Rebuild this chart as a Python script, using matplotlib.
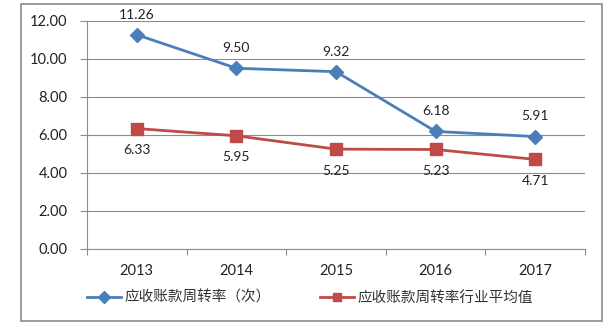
import matplotlib
matplotlib.use("Agg")
import matplotlib.pyplot as plt
from matplotlib.patches import Rectangle
from matplotlib.ticker import FixedLocator

years = ["2013", "2014", "2015", "2016", "2017"]
turnover = [11.26, 9.50, 9.32, 6.18, 5.91]
industry_avg = [6.33, 5.95, 5.25, 5.23, 4.71]
series_names = ["应收账款周转率（次）", "应收账款周转率行业平均值"]
yticks = [0, 2, 4, 6, 8, 10, 12]

blue = "#4A7EBB"
red = "#BE4B48"
grid_c = "#8C8C8C"

plt.rcParams['font.family'] = ['Lato', 'DejaVu Sans']

fig = plt.figure(figsize=(6.14, 3.25), dpi=100)
ax = fig.add_axes([87/614, 1-249/325, (585-87)/614, (249-20.7)/325])

x = list(range(len(years)))
ax.plot(x, turnover, color=blue, lw=2.0, marker='D', ms=7.5, label=series_names[0], zorder=3)
ax.plot(x, industry_avg, color=red, lw=2.0, marker='s', ms=8.5, label=series_names[1], zorder=3)

for xi, v in zip(x, turnover):
    ax.annotate(f"{v:.2f}", (xi, v), xytext=(0, 14.5), textcoords='offset points',
                ha='center', va='center', fontsize=10, color='#222222')
for xi, v in zip(x, industry_avg):
    ax.annotate(f"{v:.2f}", (xi, v), xytext=(0, -15.5), textcoords='offset points',
                ha='center', va='center', fontsize=10, color='#222222')

ax.set_xlim(-0.5, len(years) - 0.5)
ax.set_ylim(0, 12)
ax.set_yticks(yticks)
ax.set_yticklabels([f"{t:.2f}" for t in yticks], fontsize=10.5, color='#222222')
ax.set_xticks(x)
ax.set_xticklabels(years, fontsize=10.5, color='#222222')
ax.xaxis.set_minor_locator(FixedLocator([i - 0.5 for i in range(len(years) + 1)]))
ax.tick_params(axis='x', which='major', length=0, pad=11)
ax.tick_params(axis='x', which='minor', length=4, color=grid_c, width=0.8, direction='out')
ax.tick_params(axis='y', which='major', length=5, color=grid_c, width=0.8, pad=9)

ax.grid(axis='y', color=grid_c, lw=0.8)
ax.set_axisbelow(True)
for s in ['top', 'right']:
    ax.spines[s].set_visible(False)
ax.spines['left'].set_color(grid_c)
ax.spines['bottom'].set_color(grid_c)
ax.spines['left'].set_linewidth(0.8)
ax.spines['bottom'].set_linewidth(0.8)

leg = fig.legend(loc='center left', bbox_to_anchor=(74/614, 1-298/325), ncol=2, frameon=False,
                 prop={'family': ['Noto Sans CJK SC', 'DejaVu Sans'], 'size': 10.5},
                 handlelength=2.3, handletextpad=0.25, columnspacing=3.4, markerscale=0.75)
for t in leg.get_texts():
    t.set_color('#333333')

fig.patches.append(Rectangle((20.7/614, 1-321/325), (602-20.7)/614, (321-4)/325,
                             transform=fig.transFigure, fill=False, edgecolor='#8A8A8A', lw=1.2))

fig.savefig("out.png", dpi=100)
